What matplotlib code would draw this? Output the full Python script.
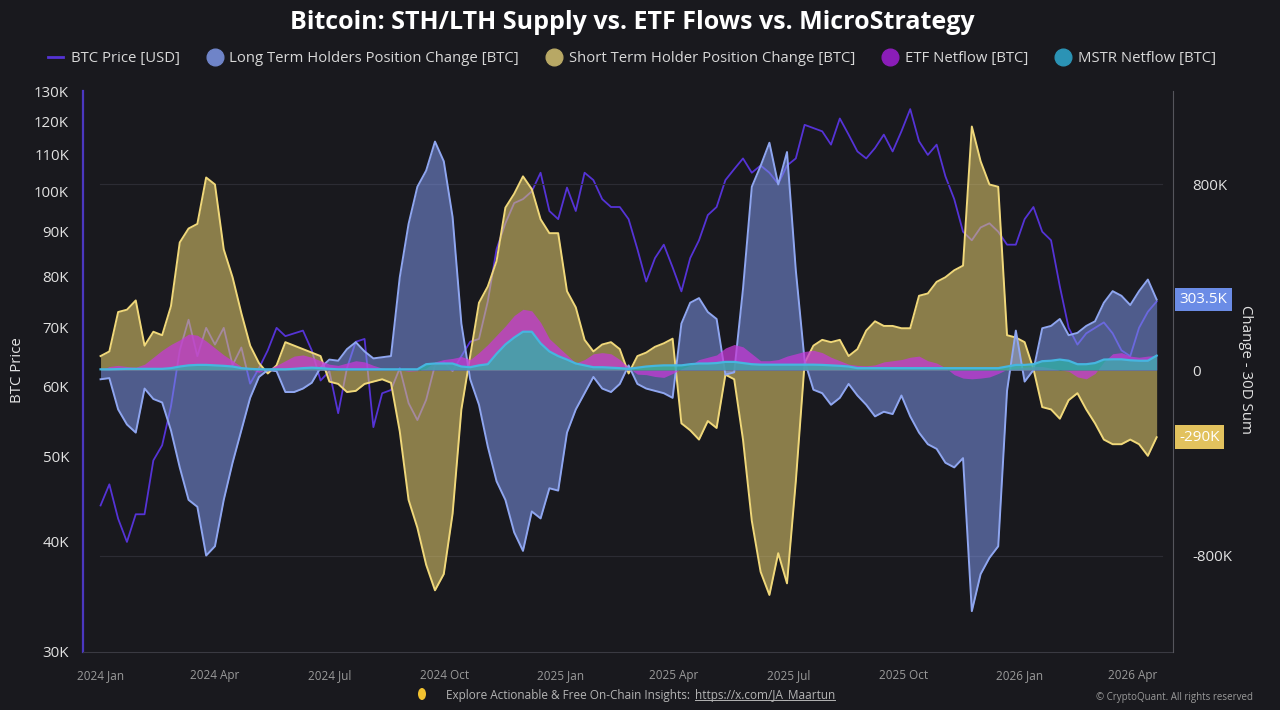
import pandas as pd
import matplotlib
matplotlib.use('Agg')
import matplotlib.pyplot as plt
import matplotlib.transforms as mtransforms
from matplotlib.lines import Line2D
from matplotlib.patches import Ellipse
from matplotlib.ticker import FixedLocator, NullLocator

# weekly samples
dates = pd.date_range('2024-01-01', periods=121, freq='7D')

btc_price_k = [
    44, 46.5, 42.5, 40, 43, 43, 49.5, 51.5, 57, 66,
    71.5, 65, 70, 67, 70, 63.5, 66.5, 60.5, 63, 66,
    70, 68.5, 69, 69.5, 66, 61, 62.5, 56, 63, 67.5,
    68, 54, 59, 59.5, 63, 57.5, 55, 58, 63.5, 64,
    62.5, 65, 67.5, 68, 75, 86, 92, 97, 98, 100,
    105, 95, 93, 101, 95, 105, 103, 98, 96, 96,
    93, 86, 79, 84, 87, 82, 77, 84, 88, 94,
    96, 103, 106, 109, 105, 107, 105, 102, 107, 109,
    119, 118, 117, 113, 121, 116, 111, 109, 112, 116,
    111, 117, 124, 114, 110, 113, 104, 98, 90, 88,
    91, 92, 90, 87, 87, 93, 96, 90, 88, 78,
    70, 67, 69, 70, 71, 69, 66, 65, 70, 73, 75,
]

lth_change_k = [
    -40, -35, -170, -235, -270, -80, -125, -140, -260, -420,
    -560, -590, -800, -760, -560, -400, -260, -120, -30, 0,
    -5, -95, -95, -80, -55, 10, 45, 40, 90, 120,
    80, 50, 55, 60, 400, 630, 790, 860, 985, 900,
    660, 200, -40, -150, -330, -480, -560, -700, -780, -610,
    -640, -510, -520, -270, -170, -100, -30, -80, -95, -60,
    20, -60, -80, -90, -100, -120, 200, 290, 310, 250,
    220, -20, -10, 350, 790, 880, 980, 800, 940, 430,
    40, -85, -100, -150, -120, -60, -110, -150, -200, -180,
    -190, -110, -200, -270, -320, -340, -400, -420, -380, -1040,
    -880, -810, -760, -90, 170, -50, 0, 180, 190, 220,
    150, 160, 190, 210, 290, 340, 320, 280, 340, 390, 303.5,
]

sth_change_k = [
    60, 80, 250, 260, 300, 105, 165, 150, 275, 550,
    610, 630, 830, 800, 520, 400, 245, 105, 30, -15,
    20, 120, 105, 90, 75, 60, -50, -60, -95, -90,
    -60, -50, -40, -55, -265, -560, -680, -840, -950, -880,
    -620, -170, 60, 290, 360, 470, 700, 760, 835, 780,
    650, 590, 590, 340, 270, 130, 80, 110, 120, 90,
    -15, 60, 75, 100, 115, 135, -230, -260, -300, -220,
    -250, -20, -40, -300, -650, -870, -970, -790, -920, -480,
    30, 105, 130, 120, 130, 60, 90, 170, 210, 190,
    190, 180, 180, 320, 330, 380, 400, 430, 450, 1050,
    900, 800, 790, 150, 140, 120, 5, -160, -170, -210,
    -130, -100, -170, -230, -300, -320, -320, -300, -320, -370, -290,
]

etf_netflow_k = [
    0, 15, 20, 15, 12, 25, 55, 85, 110, 130,
    155, 150, 125, 95, 65, 40, 15, 3, -10, 5,
    20, 40, 60, 65, 55, 40, 25, 20, 30, 40,
    35, 20, 8, 3, 0, -5, -3, 8, 35, 45,
    50, 58, 45, 75, 110, 150, 190, 235, 262, 255,
    205, 135, 100, 65, 30, 45, 70, 75, 70, 45,
    10, -18, -20, -28, -32, -15, 5, 20, 45, 55,
    65, 95, 110, 100, 70, 40, 40, 45, 60, 70,
    80, 85, 75, 55, 40, 25, 20, 18, 22, 35,
    40, 45, 55, 60, 40, 30, 10, -20, -35, -38,
    -35, -30, -15, 3, 8, 12, 15, 15, 8, 0,
    -5, -30, -38, -15, 35, 70, 75, 60, 55, 60, 62,
]

mstr_netflow_k = [
    3, 3, 4, 5, 5, 5, 5, 5, 8, 15,
    20, 22, 22, 20, 18, 15, 8, 5, 3, 3,
    3, 3, 5, 8, 10, 8, 5, 3, 3, 3,
    3, 3, 3, 3, 3, 3, 3, 25, 28, 28,
    28, 15, 12, 20, 25, 70, 110, 140, 165, 165,
    115, 80, 60, 45, 28, 20, 12, 12, 10, 8,
    5, 10, 15, 18, 20, 20, 20, 25, 28, 28,
    30, 35, 35, 30, 25, 23, 23, 23, 23, 23,
    23, 23, 22, 20, 18, 15, 8, 8, 8, 8,
    8, 8, 8, 8, 8, 8, 8, 8, 8, 8,
    8, 8, 8, 15, 22, 22, 25, 38, 40, 45,
    40, 25, 25, 30, 45, 46, 46, 42, 40, 40, 62,
]

price_ticks = [30000, 40000, 50000, 60000, 70000, 80000, 90000, 100000, 110000, 120000, 130000]
change_ticks = [-800000, 0, 800000]
change_labels = ['-800K', '0', '800K']

btc_price = [v * 1000 for v in btc_price_k]
lth = [v * 1000 for v in lth_change_k]
sth = [v * 1000 for v in sth_change_k]
etf = [v * 1000 for v in etf_netflow_k]
mstr = [v * 1000 for v in mstr_netflow_k]

plt.rcParams['font.family'] = ['Open Sans', 'DejaVu Sans']

bg = '#19191e'
txt = '#e2e2e2'
c_price = '#5533d6'
c_lth = '#7d95e8'
c_sth = '#e8d070'
c_etf = '#c43ad6'
c_mstr = '#33b0a8'

fig = plt.figure(figsize=(12.8, 7.1), dpi=100, facecolor=bg)
ax = fig.add_axes([0.0648, 0.0817, 0.8516, 0.7901])
ax.set_facecolor(bg)

# BTC price (log, left)
ax.plot(dates, btc_price, color=c_price, lw=1.3, zorder=2)
ax.set_yscale('log')
ax.set_ylim(30000, 130000)
ax.yaxis.set_major_locator(FixedLocator(price_ticks))
ax.yaxis.set_minor_locator(NullLocator())
ax.set_yticklabels([f'{t // 1000}K' for t in price_ticks])
ax.tick_params(axis='y', colors=txt, labelsize=10.8, length=0, pad=10)

ax.set_xlim(pd.Timestamp('2023-12-18'), pd.Timestamp('2026-05-03'))
xticks = pd.date_range('2024-01-01', '2026-04-01', freq='QS')
ax.set_xticks(xticks)
ax.set_xticklabels([d.strftime('%Y %b') for d in xticks])
ax.tick_params(axis='x', colors='#9a9a9a', labelsize=8.5, length=0, pad=12)

for s in ['top', 'right']:
    ax.spines[s].set_visible(False)
ax.spines['left'].set_color('#4b37c0')
ax.spines['left'].set_linewidth(1.6)
ax.spines['bottom'].set_color('#3a3a42')

# 30D sums (linear, right)
ax2 = ax.twinx()
ax2.set_ylim(-1216000, 1203000)
for v in [800000, -800000]:
    ax2.axhline(v, xmin=0.016, xmax=0.99, color='#2c2c34', lw=0.8, zorder=0)

ax2.fill_between(dates, 0, sth, color=c_sth, alpha=0.55, lw=0, zorder=2)
ax2.plot(dates, sth, color='#f0d87a', lw=1.4, zorder=3)
ax2.fill_between(dates, 0, lth, color=c_lth, alpha=0.55, lw=0, zorder=4)
ax2.plot(dates, lth, color='#8fa6f0', lw=1.4, zorder=5)
ax2.fill_between(dates, 0, etf, color=c_etf, alpha=0.75, lw=0, zorder=6)
ax2.fill_between(dates, 0, mstr, color=c_mstr, alpha=0.8, lw=0, zorder=7)
ax2.plot(dates, mstr, color='#45b6e0', lw=1.6, zorder=8)

ax2.set_yticks(change_ticks)
ax2.set_yticklabels(change_labels)
ax2.tick_params(axis='y', colors=txt, labelsize=10.8, length=0, pad=14)
for s in ['top', 'left', 'bottom']:
    ax2.spines[s].set_visible(False)
ax2.spines['right'].set_color('#55555c')

# last value tags
tag = mtransforms.blended_transform_factory(ax2.transAxes, ax2.transData)
ax2.text(1.006, lth[-1], f'{lth_change_k[-1]}K', transform=tag, ha='left', va='center',
         color='white', fontsize=11,
         bbox=dict(boxstyle='square,pad=0.28', fc='#6b8ce6', ec='none'))
ax2.text(1.006, sth[-1], f'{sth_change_k[-1]}K', transform=tag, ha='left', va='center',
         color='white', fontsize=11,
         bbox=dict(boxstyle='square,pad=0.28', fc='#e2c25e', ec='none'))

fig.text(0.014, 0.479, 'BTC Price', rotation=90, ha='center', va='center', color=txt, fontsize=10.8)
fig.text(0.973, 0.479, 'Change - 30D Sum', rotation=270, ha='center', va='center', color=txt, fontsize=10.8)

fig.text(0.494, 0.969, 'Bitcoin: STH/LTH Supply vs. ETF Flows vs. MicroStrategy',
         ha='center', va='center', color='white', fontsize=18, fontweight='bold')

handles = [
    Line2D([0], [0], color=c_price, lw=2),
    Line2D([0], [0], marker='o', ls='', ms=12, mfc='#6f84c8', mec='#6f84c8'),
    Line2D([0], [0], marker='o', ls='', ms=12, mfc='#b8a865', mec='#b8a865'),
    Line2D([0], [0], marker='o', ls='', ms=12, mfc='#8a1db8', mec='#8a1db8'),
    Line2D([0], [0], marker='o', ls='', ms=12, mfc='#2b93b5', mec='#2b93b5'),
]
labels = ['BTC Price [USD]', 'Long Term Holders Position Change [BTC]',
          'Short Term Holder Position Change [BTC]', 'ETF Netflow [BTC]', 'MSTR Netflow [BTC]']
fig.legend(handles, labels, loc='center', bbox_to_anchor=(0.494, 0.918), ncol=5,
           frameon=False, fontsize=10.7, labelcolor='#d8d8d8', handlelength=1.0,
           handletextpad=0.5, columnspacing=1.85)

# footer
fig.patches.append(Ellipse((422 / 1280, 1 - 694 / 710), 8 / 1280, 12 / 710,
                           transform=fig.transFigure, fc='#f2c230', ec='none'))
fig.text(0.5414, 0.021, 'Explore Actionable & Free On-Chain Insights: ', ha='right', va='center',
         color='#b4b4b4', fontsize=8.5)
url = fig.text(0.5430, 0.021, 'https://x.com/JA_Maartun', ha='left', va='center',
               color='#b4b4b4', fontsize=8.5)
fig.text(0.979, 0.018, '\u00a9 CryptoQuant. All rights reserved', ha='right', va='center',
         color='#9a9a9a', fontsize=7)

fig.canvas.draw()
bb = url.get_window_extent().transformed(fig.transFigure.inverted())
fig.add_artist(Line2D([bb.x0, bb.x1], [bb.y0 + 0.002, bb.y0 + 0.002], transform=fig.transFigure,
                      color='#b4b4b4', lw=0.7))

fig.savefig('out.png', dpi=100, facecolor=bg)
